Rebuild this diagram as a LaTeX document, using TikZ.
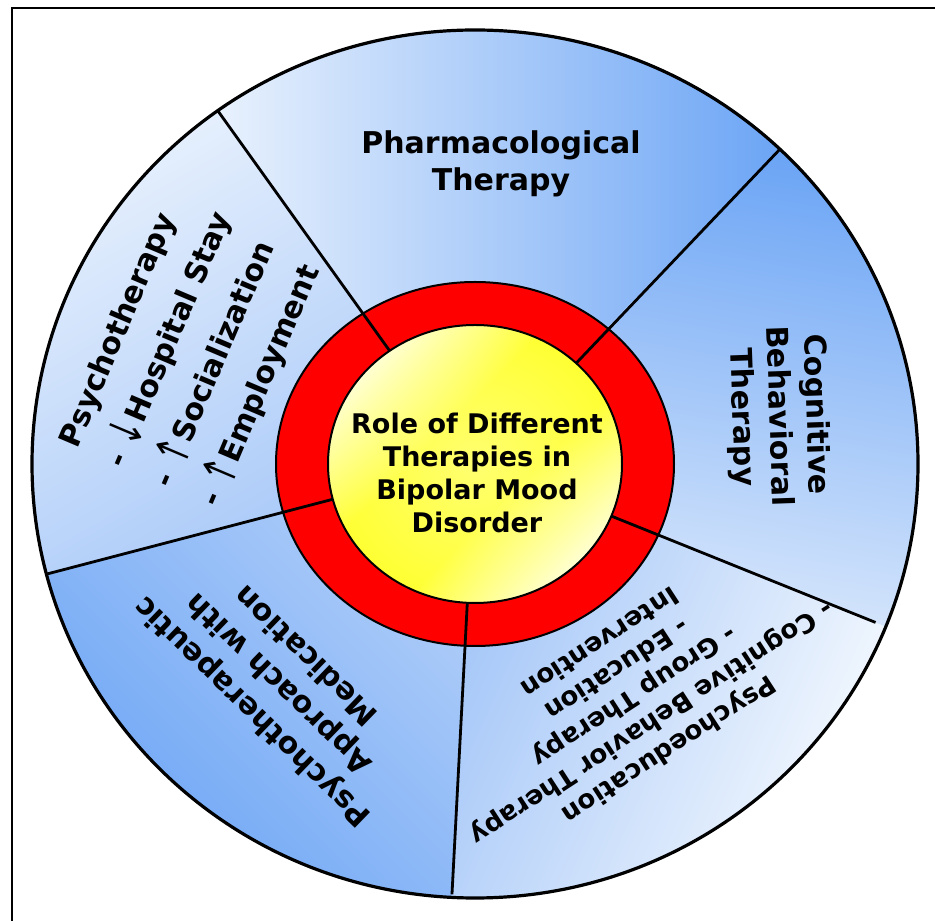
\documentclass[tikz,border=0pt]{standalone}
\usepackage{fontspec}
\setmainfont{DejaVu Sans}
\usetikzlibrary{fadings}
\definecolor{bdark}{RGB}{108,165,245}
\definecolor{bmid}{RGB}{164,198,248}
\definecolor{blight}{RGB}{232,241,253}
\definecolor{bwhite}{RGB}{246,250,254}
\definecolor{ringred}{RGB}{255,0,0}
\pgfdeclarehorizontalshading{yelband}{100bp}{rgb(0bp)=(1,1,0.85); rgb(25bp)=(1,1,0.82); rgb(42bp)=(1,1,0.2); rgb(58bp)=(1,1,0.2); rgb(75bp)=(1,1,0.82); rgb(100bp)=(1,1,0.85)}
\tikzfading[name=ctrfade, inner color=transparent!70, outer color=transparent!100]
\newcommand{\arrdown}{\raisebox{-0.12em}{\scalebox{1}[1.55]{\mdseries ↓}}}
\newcommand{\arrup}{\raisebox{-0.12em}{\scalebox{1}[1.55]{\mdseries ↑}}}
\begin{document}
\begin{tikzpicture}[x=1pt,y=1pt,
  lbl/.style={font=\fontsize{30}{37}\selectfont\bfseries, align=center, inner sep=0pt, text=black},
  divider/.style={line width=2.8pt, black},
  outline/.style={line width=2pt, black}]
\useasboundingbox (0,0) rectangle (935,921);
\coordinate (C) at (475,457);
% sectors
\shade[top color=bdark, bottom color=blight, shading angle=-90]
  (C) -- ([shift={(46.5:443pt and 434pt)}]C) arc[start angle=46.5, end angle=125.5, x radius=443pt, y radius=434pt] -- cycle;
\shade[top color=blight, bottom color=bmid, shading angle=30]
  (C) -- ([shift={(125.5:443pt and 434pt)}]C) arc[start angle=125.5, end angle=194.7, x radius=443pt, y radius=434pt] -- cycle;
\shade[top color=bmid!80!blight, bottom color=bdark, shading angle=-45]
  (C) -- ([shift={(194.7:443pt and 434pt)}]C) arc[start angle=194.7, end angle=267, x radius=443pt, y radius=434pt] -- cycle;
\shade[top color=bmid, bottom color=bwhite, shading angle=66]
  (C) -- ([shift={(267:443pt and 434pt)}]C) arc[start angle=267, end angle=338, x radius=443pt, y radius=434pt] -- cycle;
\shade[top color=bdark, bottom color=blight!80!bmid, shading angle=-10]
  (C) -- ([shift={(338:443pt and 434pt)}]C) arc[start angle=338, end angle=406.5, x radius=443pt, y radius=434pt] -- cycle;
% red ring
\fill[ringred] (C) ellipse[x radius=199pt, y radius=182pt];
% dividers
\coordinate (d1a) at ([shift={(125.5:147pt and 139pt)}]C);
\coordinate (d1b) at ([shift={(125.5:443pt and 434pt)}]C);
\coordinate (d2a) at ([shift={(46.5:147pt and 139pt)}]C);
\coordinate (d2b) at ([shift={(46.5:443pt and 434pt)}]C);
\coordinate (d3a) at ([shift={(-22:147pt and 139pt)}]C);
\coordinate (d3b) at ([shift={(-22:432pt and 423pt)}]C);
\coordinate (d4a) at ([shift={(267:147pt and 139pt)}]C);
\coordinate (d4b) at ([shift={(267:440pt and 431pt)}]C);
\coordinate (d5a) at ([shift={(194.7:147pt and 139pt)}]C);
\coordinate (d5b) at ([shift={(194.7:443pt and 434pt)}]C);
\draw[divider] (d1a) -- (d1b);
\draw[divider] (d2a) -- (d2b);
\draw[divider] (d3a) -- (d3b);
\draw[divider] (d4a) -- (d4b);
\draw[divider] (d5a) -- (d5b);
\draw[outline] (C) ellipse[x radius=199pt, y radius=182pt];
% yellow core
\shade[shading=yelband, shading angle=-45] (C) ellipse[x radius=147pt, y radius=139pt];
\fill[white, path fading=ctrfade] (C) ellipse[x radius=147pt, y radius=139pt];
\draw[outline] (C) ellipse[x radius=147pt, y radius=139pt];
% outer border
\draw[line width=3.2pt] (C) ellipse[x radius=443pt, y radius=434pt];
% frame
\draw[line width=2.5pt] (12,-2) -- (12,913) -- (937,913);
% texts
\node[lbl] (ttop) at (501,757) {Pharmacological\\Therapy};
\node[lbl, rotate=-88] (tright) at (778,505) {Cognitive\\Behavioral\\Therapy};
\node[lbl, font=\fontsize{26}{32}\selectfont\bfseries, rotate=213] (tbr) at (635,224)
  {Psychoeducation\\- Cognitive Behavior Therapy\\- Group Therapy\\- Education\\Intervention};
\node[lbl, font=\fontsize{30}{39}\selectfont\bfseries, rotate=136] (tbl) at (278,236)
  {Psychotherapeutic\\Approach with\\Medication};
\node[lbl, align=left, font=\fontsize{30}{51}\selectfont\bfseries, rotate=67] (tleft) at (194,571)
  {Psychotherapy\\- \arrdown Hospital Stay\\- \arrup Socialization\\- \arrup Employment};
\node[lbl, font=\fontsize{27}{33}\selectfont\bfseries] (tcenter) at (477,448)
  {Role of Different\\Therapies in\\Bipolar Mood\\Disorder};
\end{tikzpicture}
\end{document}
